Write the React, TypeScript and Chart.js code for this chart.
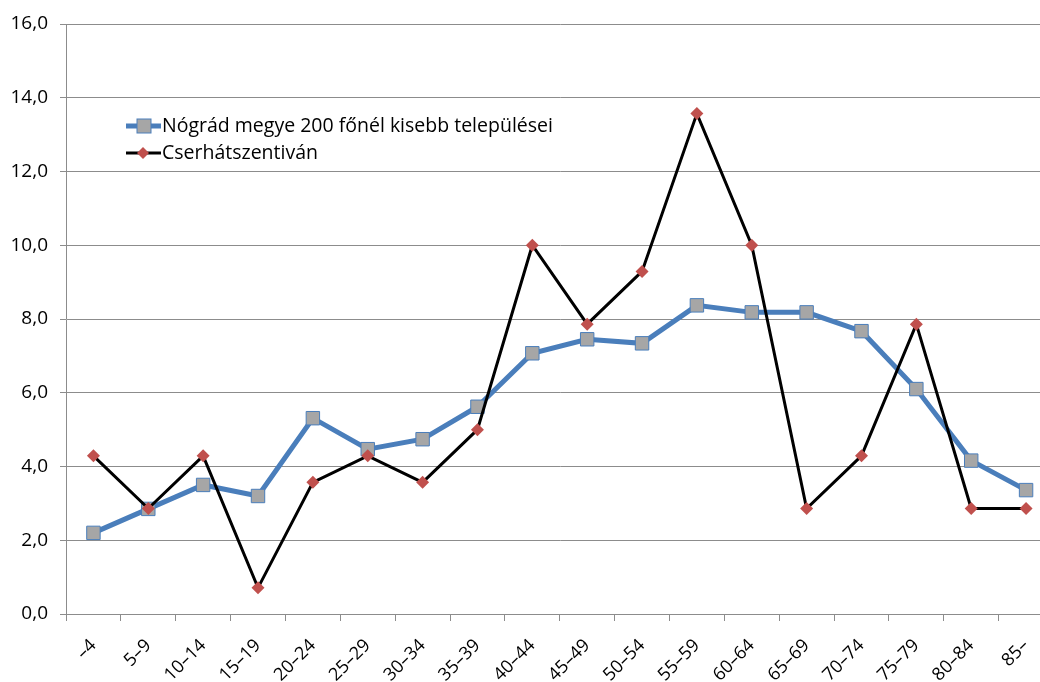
import React, { useEffect, useRef } from "react";
import { Chart, registerables } from "chart.js";

Chart.register(...registerables);

const categories = ["–4", "5–9", "10–14", "15–19", "20–24", "25–29", "30–34", "35–39", "40–44", "45–49", "50–54", "55–59", "60–64", "65–69", "70–74", "75–79", "80–84", "85–"];
const nogradValues = [2.2, 2.85, 3.5, 3.2, 5.31, 4.47, 4.74, 5.62, 7.07, 7.45, 7.34, 8.37, 8.18, 8.18, 7.67, 6.1, 4.16, 3.36];
const cserhatValues = [4.29, 2.86, 4.29, 0.71, 3.57, 4.29, 3.57, 5.0, 10.0, 7.86, 9.29, 13.57, 10.0, 2.86, 4.29, 7.86, 2.86, 2.86];
const seriesLabels = ["Nógrád megye 200 főnél kisebb települései", "Cserhátszentiván"];

const FONT = "'Open Sans', sans-serif";

const legendPlugin = {
  id: "customLegend",
  afterDraw(chart: any) {
    const ctx = chart.ctx;
    const items = [
      { ds: chart.data.datasets[0], y: 126 },
      { ds: chart.data.datasets[1], y: 153 },
    ];
    ctx.save();
    items.forEach(({ ds, y }) => {
      const x0 = 126, x1 = 161, cx = 144;
      ctx.strokeStyle = ds.borderColor;
      ctx.lineWidth = ds.borderWidth;
      ctx.beginPath();
      ctx.moveTo(x0, y);
      ctx.lineTo(x1, y);
      ctx.stroke();
      ctx.fillStyle = ds.pointBackgroundColor;
      ctx.strokeStyle = ds.pointBorderColor;
      ctx.lineWidth = ds.pointBorderWidth;
      if (ds.pointStyle === "rect") {
        ctx.fillRect(cx - 7, y - 7, 14, 14);
        ctx.strokeRect(cx - 7, y - 7, 14, 14);
      } else {
        ctx.beginPath();
        ctx.moveTo(cx - 1, y - 6);
        ctx.lineTo(cx + 5, y);
        ctx.lineTo(cx - 1, y + 6);
        ctx.lineTo(cx - 7, y);
        ctx.closePath();
        ctx.fill();
      }
      ctx.fillStyle = "#000";
      ctx.font = "19.5px " + FONT;
      ctx.textBaseline = "middle";
      ctx.textAlign = "left";
      ctx.fillText(ds.label, 162, y);
    });
    ctx.restore();
  },
};

export default function App() {
  const ref = useRef<HTMLCanvasElement>(null);
  useEffect(() => {
    if (!ref.current) return;
    const chart = new Chart(ref.current, {
      type: "line",
      data: {
        labels: categories,
        datasets: [
          {
            label: seriesLabels[0],
            data: nogradValues,
            borderColor: "#4a7ebb",
            borderWidth: 5,
            pointStyle: "rect",
            pointRadius: 9.5,
            pointBackgroundColor: "#a6a6a6",
            pointBorderColor: "#4a7ebb",
            pointBorderWidth: 1,
            tension: 0,
            order: 1,
          } as any,
          {
            label: seriesLabels[1],
            data: cserhatValues,
            borderColor: "#000000",
            borderWidth: 3,
            pointStyle: "rectRot",
            pointRadius: 6.5,
            pointBackgroundColor: "#c0504d",
            pointBorderColor: "#c0504d",
            pointBorderWidth: 0,
            tension: 0,
            order: 0,
          } as any,
        ],
      },
      options: {
        responsive: false,
        animation: false,
        layout: { padding: { top: 24, right: 0, left: 0, bottom: 0 } },
        plugins: { legend: { display: false }, tooltip: { enabled: false } },
        scales: {
          x: {
            offset: true,
            grid: { offset: true, drawOnChartArea: false, drawTicks: true, tickLength: 7, color: "#8c8c8c" },
            border: { color: "#8c8c8c", width: 1 },
            ticks: {
              minRotation: 45,
              maxRotation: 45,
              autoSkip: false,
              padding: 14,
              color: "#000",
              font: { family: FONT, size: 18 },
            },
            afterFit(scale: any) {
              scale.height = 68;
              scale.paddingRight = 0;
              scale.paddingLeft = 0;
            },
          },
          y: {
            min: 0,
            max: 16,
            ticks: {
              stepSize: 2,
              padding: 12,
              color: "#000",
              font: { family: FONT, size: 19 },
              callback: (v: any) => Number(v).toFixed(1).replace(".", ","),
            },
            grid: { color: "#8c8c8c", tickLength: 6 },
            border: { color: "#8c8c8c", width: 1 },
            afterFit(scale: any) {
              scale.width = 66;
            },
          },
        },
      },
      plugins: [legendPlugin],
    });
    return () => chart.destroy();
  }, []);
  return (
    <div style={{ position: "absolute", left: 0, top: 0, width: 1040, height: 682, background: "#fff", overflow: "hidden" }}>
      <canvas ref={ref} width={1064} height={682} />
    </div>
  );
}
